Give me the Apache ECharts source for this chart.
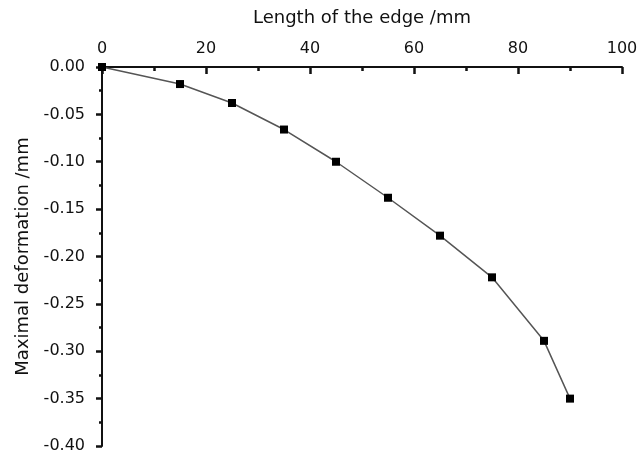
<!DOCTYPE html>
<html>
<head>
<meta charset="utf-8">
<script src="https://cdn.jsdelivr.net/npm/echarts@6/dist/echarts.min.js"></script>
<style>
  html, body { margin: 0; padding: 0; background: #fff; }
  #chart { width: 644px; height: 459px; }
</style>
</head>
<body>
<div id="chart"></div>
<script>
// Data
const edgeLength = [0, 15, 25, 35, 45, 55, 65, 75, 85, 90];
const deformation = [0, -0.018, -0.038, -0.066, -0.100, -0.138, -0.178, -0.222, -0.289, -0.350];

const xTitle = 'Length of the edge /mm';
const yTitle = 'Maximal deformation /mm';

const points = edgeLength.map((x, i) => [x, deformation[i]]);

const font = 'DejaVu Sans, sans-serif';
const ink = '#111';

const chart = echarts.init(document.getElementById('chart'));
chart.setOption({
    animation: false,
    grid: { left: 102, right: 22, top: 67, bottom: 13 },
    xAxis: {
        type: 'value',
        position: 'top',
        min: 0, max: 100, interval: 20,
        name: xTitle,
        nameLocation: 'middle',
        nameGap: 40,
        nameTextStyle: { fontFamily: font, fontSize: 18, color: ink },
        axisLine: { onZero: false, lineStyle: { color: ink, width: 2 } },
        axisTick: { inside: true, length: 7, lineStyle: { color: ink, width: 2.5 } },
        minorTick: { show: true, splitNumber: 2, length: 4, lineStyle: { color: ink, width: 2.5 } },
        axisLabel: { fontFamily: font, fontSize: 16, color: ink, margin: 10 },
        splitLine: { show: false }
    },
    yAxis: {
        type: 'value',
        min: -0.4, max: 0, interval: 0.05,
        name: yTitle,
        nameLocation: 'middle',
        nameGap: 69,
        nameTextStyle: { fontFamily: font, fontSize: 18, color: ink },
        axisLine: { onZero: false, lineStyle: { color: ink, width: 2 } },
        axisTick: { length: 6, lineStyle: { color: ink, width: 2.5 } },
        minorTick: { show: true, splitNumber: 2, length: 3, lineStyle: { color: ink, width: 2.5 } },
        axisLabel: {
            fontFamily: font, fontSize: 16, color: ink, margin: 17,
            formatter: v => v.toFixed(2)
        },
        splitLine: { show: false }
    },
    series: [{
        type: 'line',
        data: points,
        symbol: 'rect',
        symbolSize: 8,
        itemStyle: { color: '#000' },
        lineStyle: { color: '#555', width: 1.5 }
    }]
});
</script>
</body>
</html>
